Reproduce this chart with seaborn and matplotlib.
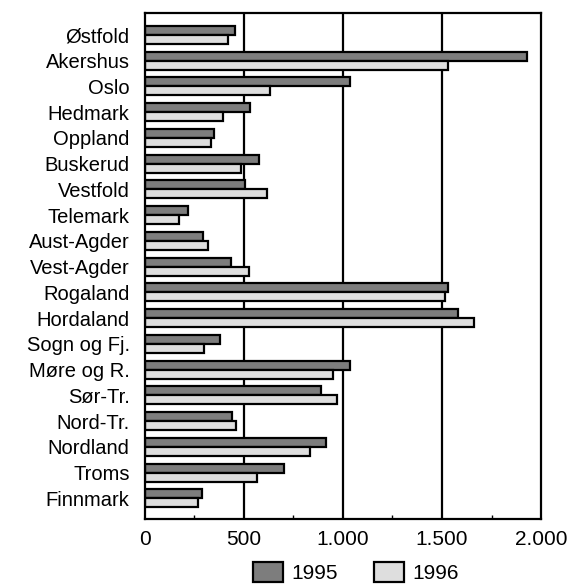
import matplotlib
matplotlib.use("Agg")
import matplotlib.pyplot as plt
import matplotlib.ticker as mticker
import seaborn as sns
import pandas as pd

fylker = ["Østfold", "Akershus", "Oslo", "Hedmark", "Oppland", "Buskerud",
          "Vestfold", "Telemark", "Aust-Agder", "Vest-Agder", "Rogaland",
          "Hordaland", "Sogn og Fj.", "Møre og R.", "Sør-Tr.", "Nord-Tr.",
          "Nordland", "Troms", "Finnmark"]
v1995 = [455, 1929, 1034, 529, 350, 574, 506, 215, 293, 435, 1528,
         1580, 377, 1036, 890, 440, 914, 702, 286]
v1996 = [421, 1531, 631, 394, 332, 487, 614, 174, 320, 525, 1516,
         1663, 300, 951, 971, 460, 834, 567, 269]
aar = ["1995", "1996"]
xticks = [0, 500, 1000, 1500, 2000]
xlabels = ["0", "500", "1.000", "1.500", "2.000"]

df = pd.DataFrame({
    "fylke": fylker * 2,
    "verdi": v1995 + v1996,
    "aar": [aar[0]] * len(fylker) + [aar[1]] * len(fylker),
})

sns.set_style("white")
plt.rcParams["font.family"] = ["Liberation Sans", "DejaVu Sans"]
plt.rcParams["text.color"] = "black"
plt.rcParams["xtick.color"] = "black"
plt.rcParams["ytick.color"] = "black"
plt.rcParams["xtick.labelcolor"] = "black"
plt.rcParams["ytick.labelcolor"] = "black"

fig = plt.figure(figsize=(5.69, 5.86), dpi=100)
ax = fig.add_axes([0.2548, 0.1143, 0.696, 0.8635])

farger = {"1995": "#7d7d7d", "1996": "#dedede"}
sns.barplot(data=df, y="fylke", x="verdi", hue="aar", orient="h",
            palette=farger, width=0.7, edgecolor="black", linewidth=1.6,
            saturation=1, ax=ax, legend=True)

for x in xticks[1:-1]:
    ax.axvline(x, color="black", lw=1.6, zorder=0)

ax.set_xlim(0, 2000)
ax.set_ylim(18.8, -0.85)
ax.set_xticks(xticks)
ax.set_xticklabels(xlabels, fontsize=15)
ax.xaxis.set_minor_locator(mticker.MultipleLocator(250))
ax.tick_params(axis="x", which="minor", direction="in", length=3, width=1,
               bottom=True)
ax.tick_params(axis="x", which="major", length=0, pad=8)
ax.tick_params(axis="y", length=0, pad=11, labelsize=14.5)
ax.set_xlabel("")
ax.set_ylabel("")
for s in ax.spines.values():
    s.set_color("black")
    s.set_linewidth(1.6)

handles, labels = ax.get_legend_handles_labels()
ax.get_legend().remove()
fig.legend(handles, labels, loc="lower center",
           bbox_to_anchor=(356 / 569, -0.02), ncol=2, frameon=False,
           fontsize=15, handlelength=1.45, handleheight=1.1,
           columnspacing=1.7, handletextpad=0.4, borderpad=0.2)

fig.savefig("out.png", dpi=100)
